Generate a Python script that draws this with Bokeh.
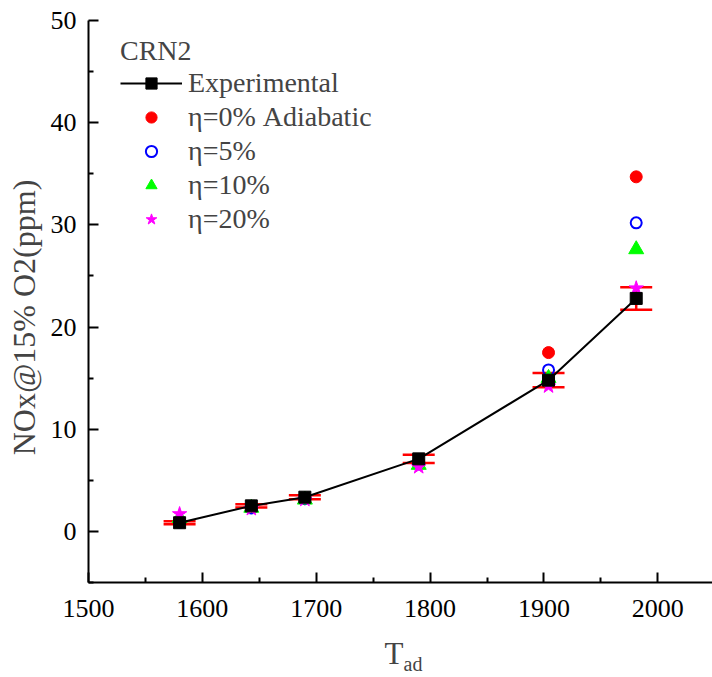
from bokeh.plotting import figure
from bokeh.models import ColumnDataSource, Whisker, TeeHead, Legend, LegendItem, Label, Range1d, FixedTicker
from bokeh.layouts import column
from bokeh.embed import file_html
from bokeh.resources import INLINE

# ---- data ----
t_ad = [1580, 1643, 1690, 1790, 1904, 1981]
experimental = [0.85, 2.5, 3.35, 7.1, 14.8, 22.8]
exp_err = [0.15, 0.15, 0.2, 0.4, 0.7, 1.1]
eta0 = [1.0, 2.4, 3.2, 6.8, 17.5, 34.7]
eta5 = [0.9, 2.3, 3.2, 6.6, 15.8, 30.2]
eta10 = [1.3, 2.3, 3.1, 6.5, 15.0, 27.6]
eta20 = [1.7, 2.2, 3.1, 6.3, 14.2, 23.8]
x_ticks = [1500, 1600, 1700, 1800, 1900, 2000]
x_minor = [1550, 1650, 1750, 1850, 1950, 2050]
y_ticks = [0, 10, 20, 30, 40, 50]
y_minor = [-5, 5, 15, 25, 35, 45]

FONT = "Liberation Serif"

p = figure(frame_width=624, frame_height=562, min_border_left=88, min_border_top=20,
           min_border_right=0, min_border_bottom=55,
           x_range=Range1d(1500, 2048), y_range=Range1d(-5, 50),
           output_backend="svg", toolbar_location=None)
p.outline_line_color = None
p.grid.visible = False

for ax in (p.xaxis[0], p.yaxis[0]):
    ax.axis_line_width = 2
    ax.axis_line_color = "black"
    ax.major_tick_in = 10
    ax.major_tick_out = 0
    ax.minor_tick_in = 5
    ax.minor_tick_out = 0
    ax.major_tick_line_width = 2
    ax.minor_tick_line_width = 2
    ax.major_label_text_font = FONT
    ax.major_label_text_font_size = "26px"
    ax.major_label_text_color = "black"

p.xaxis.major_label_standoff = 17
p.yaxis.major_label_standoff = 12
p.xaxis.ticker = FixedTicker(ticks=x_ticks, minor_ticks=x_minor)
p.yaxis.ticker = FixedTicker(ticks=y_ticks, minor_ticks=y_minor)

p.yaxis.axis_label = "NOx@15% O2(ppm)\u2002\u2002"
p.yaxis.axis_label_text_font = FONT
p.yaxis.axis_label_text_font_size = "32px"
p.yaxis.axis_label_text_font_style = "normal"
p.yaxis.axis_label_standoff = 6

src = ColumnDataSource(dict(x=t_ad, exp=experimental,
                            lo=[e - d for e, d in zip(experimental, exp_err)],
                            hi=[e + d for e, d in zip(experimental, exp_err)],
                            e0=eta0, e5=eta5, e10=eta10, e20=eta20))

r0 = p.scatter("x", "e0", source=src, marker="circle", size=12, fill_color="#ff0000", line_color="#ff0000")
r5 = p.scatter("x", "e5", source=src, marker="circle", size=11, fill_color=None, line_color="#0000ff", line_width=2)
r10 = p.scatter("x", "e10", source=src, marker="triangle", size=15, fill_color="#00ff00", line_color="#00ff00")
r20 = p.scatter("x", "e20", source=src, marker="star", size=15, fill_color="#ff00ff", line_color="#ff00ff")
rl = p.line("x", "exp", source=src, line_color="black", line_width=2)
rs = p.scatter("x", "exp", source=src, marker="square", size=12, fill_color="black", line_color="black")

wh = Whisker(source=src, base="x", lower="lo", upper="hi", line_color="#ff0000", line_width=2.5,
             upper_head=TeeHead(size=32, line_color="#ff0000", line_width=2.5),
             lower_head=TeeHead(size=32, line_color="#ff0000", line_width=2.5))
p.add_layout(wh)

legend = Legend(items=[
    LegendItem(label="Experimental", renderers=[rl, rs]),
    LegendItem(label="η=0% Adiabatic", renderers=[r0]),
    LegendItem(label="η=5%", renderers=[r5]),
    LegendItem(label="η=10%", renderers=[r10]),
    LegendItem(label="η=20%", renderers=[r20]),
], location=(32, 347), title="CRN2")
legend.title_text_font = FONT
legend.title_text_font_size = "28px"
legend.title_text_font_style = "normal"
legend.title_standoff = 0
legend.label_text_font = FONT
legend.label_text_font_size = "28px"
legend.glyph_width = 62
legend.glyph_height = 28
legend.label_height = 28
legend.spacing = 2
legend.padding = 0
legend.margin = 0
legend.label_standoff = 6
legend.border_line_color = None
legend.background_fill_alpha = 0
p.add_layout(legend)

# x-axis title with subscript, drawn in a strip below the main plot
p2 = figure(frame_width=624, frame_height=40, min_border_left=88, min_border_right=0,
            min_border_top=0, min_border_bottom=0,
            x_range=Range1d(88, 712), y_range=Range1d(0, 40),
            x_axis_type=None, y_axis_type=None,
            output_backend="svg", toolbar_location=None)
p2.grid.visible = False
p2.outline_line_color = None
p2.add_layout(Label(x=384, y=24, text="T", text_font=FONT, text_font_size="31px",
                    text_baseline="alphabetic", text_align="left"))
p2.add_layout(Label(x=403, y=14, text="ad", text_font=FONT, text_font_size="20px",
                    text_baseline="alphabetic", text_align="left"))

layout = column(p, p2, spacing=0)
open("out.html", "w").write(file_html(layout, INLINE))
